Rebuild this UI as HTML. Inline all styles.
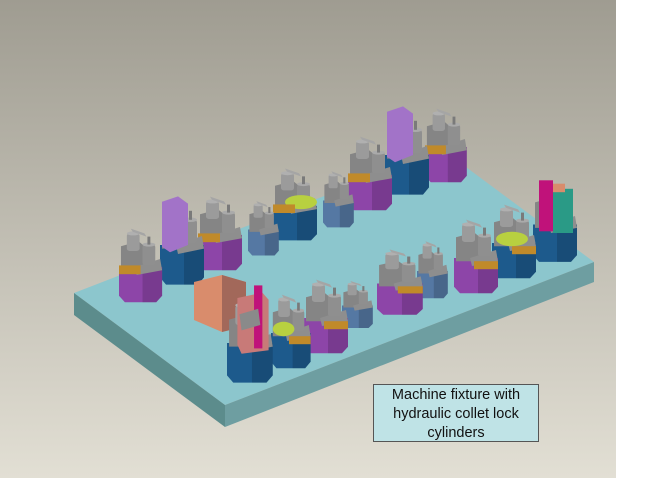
<!DOCTYPE html>
<html><head><meta charset="utf-8"><style>
html,body{margin:0;padding:0;background:#fff;}
#w{position:relative;width:650px;height:488px;overflow:hidden;background:#fff;}
#bg{position:absolute;left:0;top:0;width:616px;height:478px;background:linear-gradient(#9f9c91,#c4c1b6 55%,#e2dfd4);}
svg{position:absolute;left:0;top:0;}
#lbl{position:absolute;left:373px;top:384px;width:166px;height:58px;background:#bfe3e6;border:1px solid #555;font-family:"Liberation Sans",sans-serif;font-size:14.5px;line-height:19px;text-align:center;color:#111;box-sizing:border-box;padding-top:1px;}
</style></head><body><div id="w"><div id="bg"></div>
<svg width="650" height="488" viewBox="0 0 650 488">
<defs>
<g id="u">
<polygon points="0,50 44,50 44,86 38,94 6,94 0,86" fill="currentColor"/>
<polygon points="24,50 44,50 44,86 38,94 24,94" fill="#000" opacity=".15"/>
<polygon points="2,24 20,18 30,28 30,54 2,54" fill="#858585"/>
<rect x="8" y="8" width="13" height="22" rx="3" fill="#9b9b9b"/>
<ellipse cx="14.5" cy="8" rx="6.5" ry="2.5" fill="#b0b0b0"/>
<polygon points="12,2 26,8 28,12 14,6" fill="#a5a5a5"/>
<polygon points="16,50 42,40 44,54 18,60" fill="#8e8e8e"/>
<rect x="24" y="22" width="13" height="26" rx="3" fill="#8f8f8f"/>
<ellipse cx="30.5" cy="22" rx="6.5" ry="2.5" fill="#aaa"/>
<rect x="29" y="12" width="3" height="10" fill="#7a7a7a"/>
</g>
<rect id="b" x="0" y="48" width="22" height="11" fill="#c08a2a"/>
<polygon id="lil" points="2,2 18,-4 28,4 28,50 10,58 2,52" fill="#a273c8"/>
</defs>
<!-- plate -->
<polygon points="74,293 443,150 594,262 225,405" fill="#8cc6cd"/>
<polygon points="74,293 225,405 225,427 74,315" fill="#5c8c8c"/>
<polygon points="225,405 594,262 594,282 225,427" fill="#6e9ea1"/>
<!-- back row -->
<g transform="translate(425,107) scale(0.95,0.8)" color="#8d45a8"><use href="#u"/><use href="#b"/></g>
<g transform="translate(385,110) scale(1,0.9)" color="#1d5a8c"><use href="#u"/><use href="#lil"/></g>
<g transform="translate(348,135) scale(1,0.8)" color="#8d45a8"><use href="#u"/><use href="#b"/></g>
<g transform="translate(323,170) scale(0.7,0.61)" color="#5578a3"><use href="#u"/></g>
<g transform="translate(273,167) scale(1,0.78)" color="#1d5a8c"><use href="#u"/><ellipse cx="28" cy="45" rx="16" ry="9" fill="#b8d040"/><use href="#b"/></g>
<g transform="translate(248,200) scale(0.7,0.59)" color="#5578a3"><use href="#u"/></g>
<g transform="translate(198,195) scale(1,0.8)" color="#8d45a8"><use href="#u"/><use href="#b"/></g>
<g transform="translate(160,200) scale(1,0.9)" color="#1d5a8c"><use href="#u"/><use href="#lil"/></g>
<g transform="translate(119,227) scale(0.98,0.8)" color="#8d45a8"><use href="#u"/><use href="#b"/></g>
<!-- right side -->
<g transform="translate(533,182) scale(1,0.85)" color="#1d5a8c"><use href="#u"/>
<rect x="6" y="-2" width="14" height="60" fill="#c0127a"/><rect x="20" y="8" width="20" height="52" fill="#2a9a86"/><rect x="20" y="2" width="12" height="10" fill="#d98c6c"/></g>
<g transform="translate(492,203) scale(1,0.8)" color="#1d5a8c"><use href="#u"/><ellipse cx="20" cy="45" rx="16" ry="9" fill="#b8d040"/><rect x="20" y="54" width="24" height="10" fill="#c08a2a"/></g>
<g transform="translate(454,218) scale(1,0.8)" color="#8d45a8"><use href="#u"/><rect x="20" y="54" width="24" height="10" fill="#c08a2a"/></g>
<!-- front row -->
<g transform="translate(417,240) scale(0.7,0.62)" color="#5578a3"><use href="#u"/></g>
<g transform="translate(377,248) scale(1.04,0.71)" color="#8d45a8"><use href="#u"/><rect x="20" y="54" width="24" height="10" fill="#c08a2a"/></g>
<g transform="translate(342,280) scale(0.7,0.51)" color="#5578a3"><use href="#u"/></g>
<g transform="translate(304,278) scale(1,0.8)" color="#8d45a8"><use href="#u"/><rect x="20" y="54" width="24" height="10" fill="#c08a2a"/></g>
<polygon points="194,282 222,275 246,282 246,326 222,332 194,320" fill="#d98c6c"/>
<polygon points="222,275 246,282 246,326 222,332" fill="#a2685a"/>
<g transform="translate(271,293) scale(0.9,0.8)" color="#1d5a8c"><use href="#u"/><ellipse cx="14" cy="45" rx="12" ry="9" fill="#b8d040"/><rect x="20" y="54" width="24" height="10" fill="#c08a2a"/></g>
<g transform="translate(227,298) scale(1.04,0.9)" color="#1d5a8c"><use href="#u"/>
<polygon points="10,0 34,-6 40,2 40,58 14,62 10,52" fill="#c87a78"/><rect x="26" y="-14" width="8" height="70" fill="#c0127a"/><polygon points="12,18 30,12 32,30 14,36" fill="#8a8a8a"/></g>
</svg>
<div id="lbl">Machine fixture with<br>hydraulic collet lock<br>cylinders</div>
</div></body></html>
